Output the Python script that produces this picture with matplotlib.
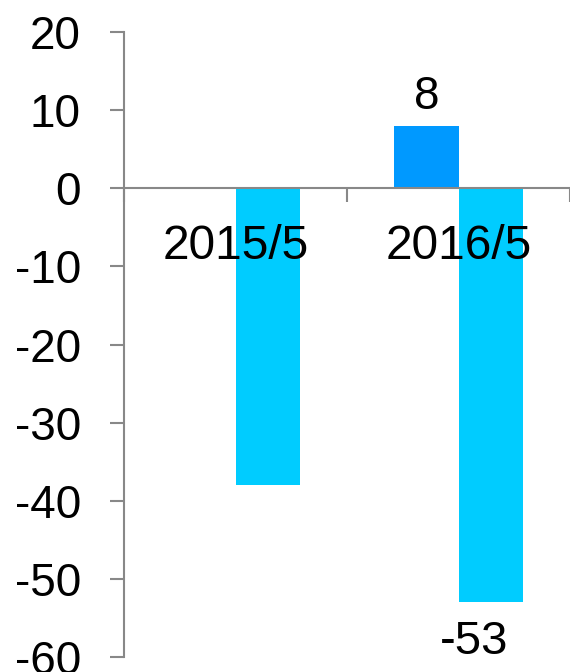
import matplotlib
matplotlib.use("Agg")
import matplotlib.pyplot as plt
import numpy as np

# ---------------------------------------------------
# data
# ---------------------------------------------------
categories = ["2015/5", "2016/5"]
series_a = [0, 8]        # dark blue
series_b = [-38, -53]    # light cyan
labels_a = ["", "8"]
labels_b = ["", "-53"]
y_ticks = [-60, -50, -40, -30, -20, -10, 0, 10, 20]

plt.rcParams["font.family"] = ["Liberation Sans", "DejaVu Sans"]

fig = plt.figure(figsize=(5.7, 6.72), dpi=100)
ax = fig.add_axes([124 / 570, 1 - 657 / 672, 446 / 570, 625 / 672])

x = np.arange(len(categories))
w = 0.287
bars_a = ax.bar(x, series_a, width=-w, align="edge", color="#0099FF", zorder=1)
bars_b = ax.bar(x, series_b, width=w, align="edge", color="#00CCFF", zorder=1)

# data labels
for b, lab in zip(bars_a, labels_a):
    if lab:
        ax.annotate(lab, (b.get_x() + b.get_width() / 2, b.get_height()),
                    xytext=(0, 5), textcoords="offset points",
                    ha="center", va="bottom", fontsize=33)
for b, lab in zip(bars_b, labels_b):
    if lab:
        ax.annotate(lab, (b.get_x() + b.get_width() / 2, b.get_height()),
                    xytext=(-11.5, -13), textcoords="offset points",
                    ha="center", va="top", fontsize=34)

ax.set_xlim(-0.5, len(categories) - 0.5)
ax.set_ylim(-60, 20)
ax.set_yticks(y_ticks)
ax.set_yticklabels([str(t) for t in y_ticks])

gray = "#888888"
for s in ["top", "right"]:
    ax.spines[s].set_visible(False)
ax.spines["bottom"].set_position(("data", 0))
ax.spines["bottom"].set_color(gray)
ax.spines["left"].set_color(gray)
ax.spines["bottom"].set_linewidth(1.5)
ax.spines["left"].set_linewidth(1.5)

ax.set_xticks(x)
ax.set_xticklabels(categories)
ax.set_xticks(np.arange(len(categories) + 1) - 0.5, minor=True)
ax.tick_params(axis="x", which="major", length=0, pad=25.5, labelsize=34.5)
ax.tick_params(axis="x", which="minor", length=10, width=1.5, color=gray, direction="out")
ax.tick_params(axis="y", length=10, width=1.5, color=gray, pad=21, labelsize=33)

for lab in ax.get_xticklabels():
    lab.set_zorder(5)

fig.savefig("out.png", dpi=100)
